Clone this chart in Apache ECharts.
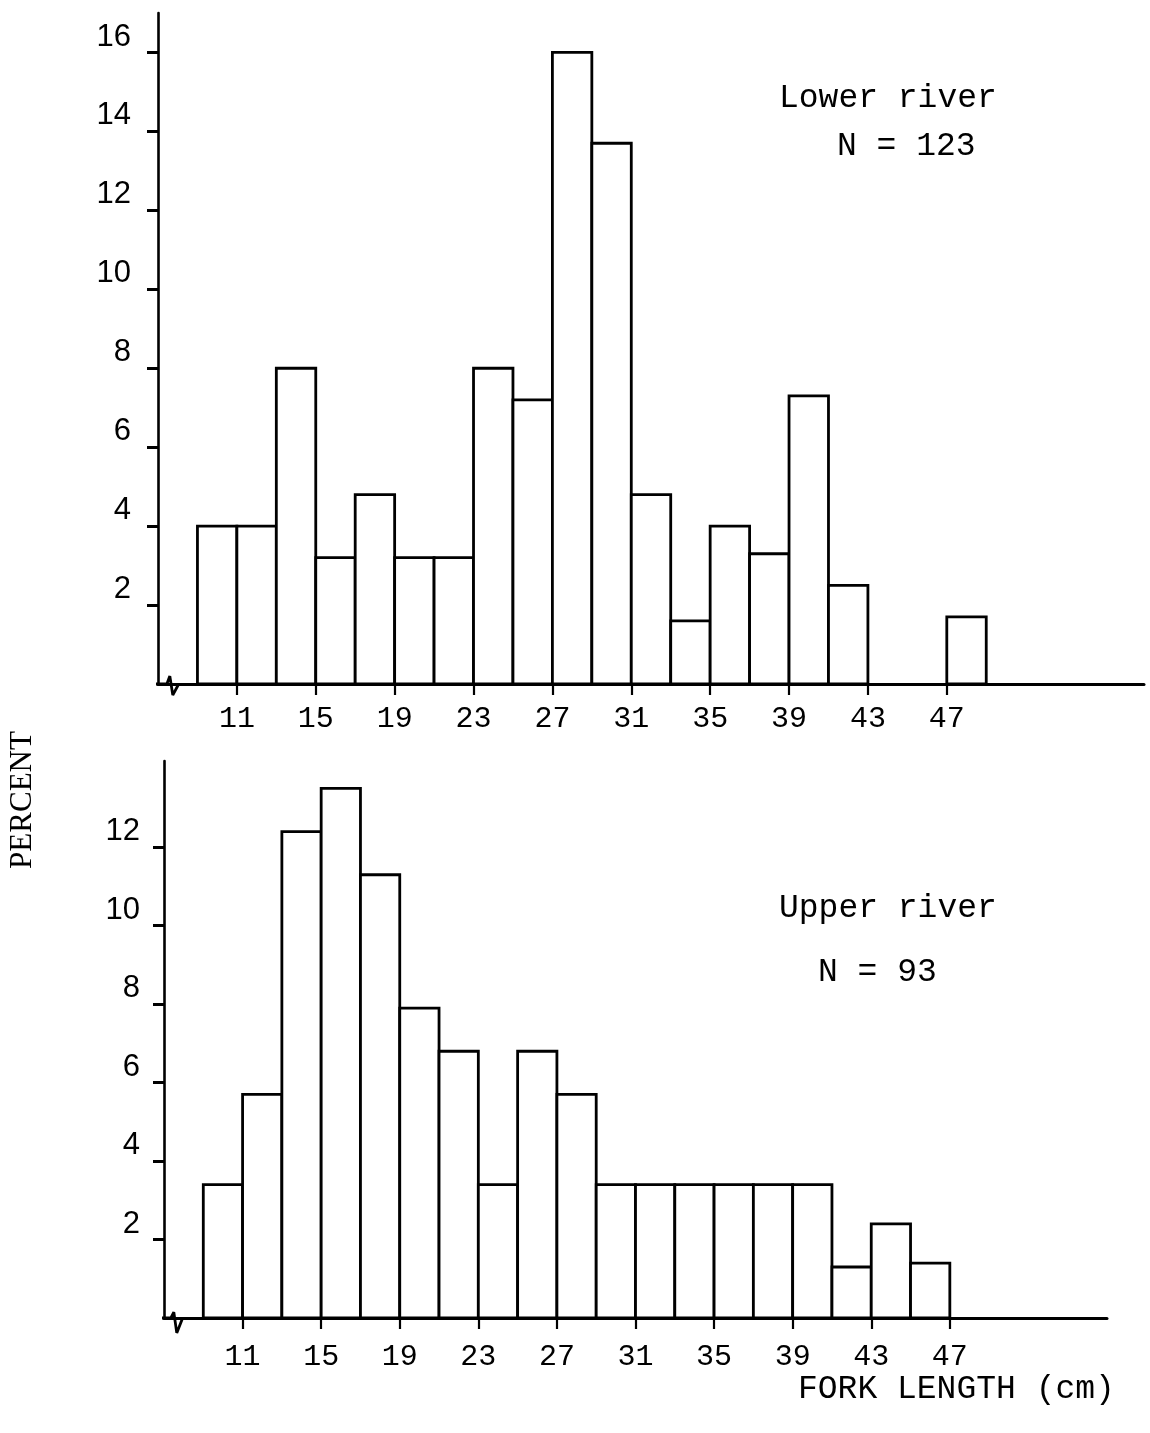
<!DOCTYPE html>
<html>
<head>
<meta charset="utf-8">
<title>Fork length distribution</title>
<script src="https://cdn.jsdelivr.net/npm/echarts@6/dist/echarts.min.js"></script>
<style>
  html, body { margin: 0; padding: 0; background: #fff; }
  #chart { width: 1150px; height: 1433px; }
</style>
</head>
<body>
<div id="chart"></div>
<script>
// Fork-length histograms (2 cm classes), percent of fish in each class.
const binWidth = 2;

// Lower river, N = 123
const lowerBinStarts = [9, 11, 13, 15, 17, 19, 21, 23, 25, 27, 29, 31, 33, 35, 37, 39, 41, 43, 45, 47];
const lowerPercent   = [4.0, 4.0, 8.0, 3.2, 4.8, 3.2, 3.2, 8.0, 7.2, 16.0, 13.7, 4.8, 1.6, 4.0, 3.3, 7.3, 2.5, 0, 0, 1.7];

// Upper river, N = 93
const upperBinStarts = [9, 11, 13, 15, 17, 19, 21, 23, 25, 27, 29, 31, 33, 35, 37, 39, 41, 43, 45];
const upperPercent   = [3.4, 5.7, 12.4, 13.5, 11.3, 7.9, 6.8, 3.4, 6.8, 5.7, 3.4, 3.4, 3.4, 3.4, 3.4, 3.4, 1.3, 2.4, 1.4];

// Axis tick labels
const xTickLabels = [11, 15, 19, 23, 27, 31, 35, 39, 43, 47];
const lowerYTicks = [2, 4, 6, 8, 10, 12, 14, 16];
const upperYTicks = [2, 4, 6, 8, 10, 12];

// Axis-break marks drawn on the baseline near the origin (data units)
const lowerBreak = [[6.45, 0], [7.45, 0], [7.6, 0.2], [7.75, -0.28], [8.05, 0]];
const upperBreak = [[6.3, 0], [7.35, 0], [7.5, 0.15], [7.65, -0.38], [7.95, 0]];

const INK = '#000';
const LW = 2.8;
const TYPE_FONT = 'Liberation Mono';

function toBins(starts, values) {
  return starts.map((s, i) => [s, s + binWidth, values[i]]).filter(d => d[2] > 0);
}

function renderBin(params, api) {
  const x0 = api.value(0), x1 = api.value(1), v = api.value(2);
  const tl = api.coord([x0, v]);
  const br = api.coord([x1, 0]);
  return {
    type: 'rect',
    shape: { x: tl[0], y: tl[1], width: br[0] - tl[0], height: br[1] - tl[1] },
    style: { fill: '#fff', stroke: INK, lineWidth: LW }
  };
}

function xAxisFor(gridIndex, max, margin) {
  return {
    type: 'value', gridIndex: gridIndex, min: 7, max: max,
    axisLine: { show: true, onZero: false, lineStyle: { color: INK, width: 3 } },
    axisTick: { show: true, length: 11, customValues: xTickLabels, lineStyle: { color: INK, width: 2.2 } },
    axisLabel: {
      customValues: xTickLabels, margin: margin,
      fontFamily: TYPE_FONT, fontSize: 30, color: INK
    },
    splitLine: { show: false }
  };
}

function yAxisFor(gridIndex, max, ticks, margin) {
  return {
    type: 'value', gridIndex: gridIndex, min: 0, max: max,
    axisLine: { show: true, lineStyle: { color: INK, width: 2.6 } },
    axisTick: { show: true, length: 11, customValues: ticks, lineStyle: { color: INK, width: 3 } },
    axisLabel: {
      customValues: ticks, margin: margin, verticalAlign: 'bottom',
      fontFamily: 'Liberation Sans', fontSize: 31, color: INK
    },
    splitLine: { show: false }
  };
}

const chart = echarts.init(document.getElementById('chart'), null, { renderer: 'canvas' });

chart.setOption({
  backgroundColor: '#fff',
  animation: false,
  grid: [
    { left: 158, right: 6, top: 13, height: 671 },
    { left: 164, right: 43, top: 761, height: 557 }
  ],
  xAxis: [ xAxisFor(0, 57, 20), xAxisFor(1, 55, 24) ],
  yAxis: [ yAxisFor(0, 17, lowerYTicks, 27), yAxisFor(1, 14.2, upperYTicks, 24) ],
  series: [
    {
      name: 'Lower river', type: 'custom', xAxisIndex: 0, yAxisIndex: 0,
      renderItem: renderBin, encode: { x: [0, 1], y: 2 },
      data: toBins(lowerBinStarts, lowerPercent)
    },
    {
      name: 'Upper river', type: 'custom', xAxisIndex: 1, yAxisIndex: 1,
      renderItem: renderBin, encode: { x: [0, 1], y: 2 },
      data: toBins(upperBinStarts, upperPercent)
    },
    {
      type: 'line', xAxisIndex: 0, yAxisIndex: 0, data: lowerBreak,
      symbol: 'none', clip: false, silent: true,
      lineStyle: { color: INK, width: LW }
    },
    {
      type: 'line', xAxisIndex: 1, yAxisIndex: 1, data: upperBreak,
      symbol: 'none', clip: false, silent: true,
      lineStyle: { color: INK, width: LW }
    }
  ],
  graphic: [
    { type: 'text', left: 779, top: 82, style: { text: 'Lower river', fontFamily: TYPE_FONT, fontSize: 33, fill: INK } },
    { type: 'text', left: 837, top: 130, style: { text: 'N = 123', fontFamily: TYPE_FONT, fontSize: 33, fill: INK } },
    { type: 'text', left: 779, top: 892, style: { text: 'Upper river', fontFamily: TYPE_FONT, fontSize: 33, fill: INK } },
    { type: 'text', left: 818, top: 956, style: { text: 'N = 93', fontFamily: TYPE_FONT, fontSize: 33, fill: INK } },
    { type: 'text', left: 798, top: 1373, style: { text: 'FORK LENGTH (cm)', fontFamily: TYPE_FONT, fontSize: 33, fill: INK } },
    {
      type: 'text', x: 23, y: 800, rotation: Math.PI / 2,
      style: { text: 'PERCENT', fontFamily: 'Liberation Serif', fontSize: 31, fill: INK, align: 'center', verticalAlign: 'middle' }
    }
  ]
});
</script>
</body>
</html>
